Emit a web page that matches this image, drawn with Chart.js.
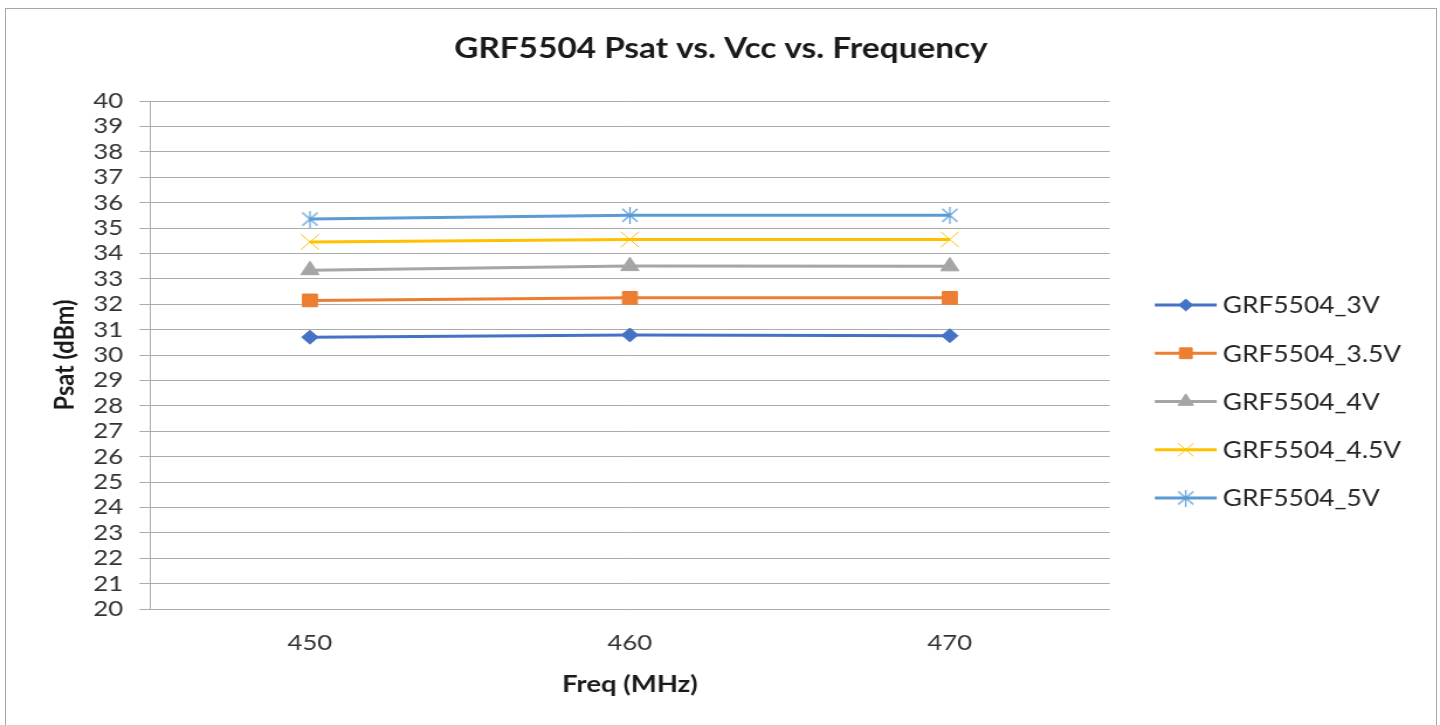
<!DOCTYPE html>
<html lang="en">
<head>
<meta charset="UTF-8">
<title>GRF5504 Psat vs. Vcc vs. Frequency</title>
<script src="https://cdn.jsdelivr.net/npm/chart.js"></script>
<style>
    body {
        margin: 0;
        background: #fff;
        overflow: hidden;
    }
    #frame {
        position: absolute;
        left: 5px;
        top: 8px;
        width: 1432px;
        height: 740px;
        box-sizing: border-box;
        border: 1px solid #a6a6a6;
    }
    #psatChart {
        position: absolute;
        left: 0;
        top: 0;
    }
</style>
</head>
<body>
<div id="frame"></div>
<canvas id="psatChart" style="width: 1440px; height: 725px;"></canvas>
<script>
// data
const frequencies = ['450', '460', '470'];
const seriesNames = ['GRF5504_3V', 'GRF5504_3.5V', 'GRF5504_4V', 'GRF5504_4.5V', 'GRF5504_5V'];
const psat3V   = [30.70, 30.79, 30.76];
const psat35V  = [32.15, 32.25, 32.25];
const psat4V   = [33.34, 33.50, 33.49];
const psat45V  = [34.45, 34.55, 34.55];
const psat5V   = [35.35, 35.50, 35.50];
const yMin = 20;
const yMax = 40;
const yStep = 1;

// the original picture is stretched sideways, so draw narrow and stretch with css
const SX = 1.17;
const W = Math.round(1440 / SX);
const H = 725;
const PLOT_LEFT = 150 / SX;
const PLOT_RIGHT = 1110 / SX;

const canvas = document.getElementById('psatChart');
canvas.width = W;
canvas.height = H;

// asterisk marker for the 5V series
function makeStar(color) {
    const c = document.createElement('canvas');
    c.width = 15;
    c.height = 17;
    const g = c.getContext('2d');
    g.strokeStyle = color;
    g.lineWidth = 1.2;
    g.beginPath();
    g.moveTo(7.5, 0); g.lineTo(7.5, 17);
    g.moveTo(1, 2); g.lineTo(14, 15);
    g.moveTo(14, 2); g.lineTo(1, 15);
    g.stroke();
    return c;
}

const colors = ['#4472C4', '#ED7D31', '#A5A5A5', '#FFC000', '#5B9BD5'];
const values = [psat3V, psat35V, psat4V, psat45V, psat5V];
const styles = ['rectRot', 'rect', 'triangle', 'crossRot', makeStar('#5B9BD5')];
const radii = [7, 9, 9, 11, 8];

const datasets = seriesNames.map((name, i) => ({
    label: name,
    data: values[i],
    borderColor: colors[i],
    backgroundColor: colors[i],
    borderWidth: 3,
    pointStyle: styles[i],
    pointRadius: radii[i],
    pointBorderWidth: 1,
    pointBorderColor: colors[i],
    pointBackgroundColor: colors[i],
    tension: 0,
    fill: false
}));

const TEXT = '#1a1a1a';
const TICK = '#333';
const LEGEND_TOP = 305;
const LEGEND_GAP = 48.25;

const decorPlugin = {
    id: 'decor',
    afterDraw(chart) {
        const ctx = chart.ctx;
        ctx.save();
        // title
        ctx.fillStyle = TEXT;
        ctx.font = 'bold 28.5px Lato';
        ctx.textAlign = 'center';
        ctx.textBaseline = 'middle';
        ctx.fillText('GRF5504 Psat vs. Vcc vs. Frequency', 721 / SX, 49);

        // legend on the right
        ctx.textAlign = 'left';
        ctx.font = '22.5px Lato';
        chart.data.datasets.forEach((ds, i) => {
            const y = LEGEND_TOP + i * LEGEND_GAP;
            ctx.strokeStyle = ds.borderColor;
            ctx.lineWidth = 3;
            ctx.beginPath();
            ctx.moveTo(1155 / SX, y);
            ctx.lineTo(1217 / SX, y);
            ctx.stroke();
            ctx.fillStyle = ds.pointBackgroundColor;
            ctx.lineWidth = ds.pointBorderWidth;
            Chart.helpers.drawPoint(ctx, {
                pointStyle: ds.pointStyle,
                radius: ds.pointRadius * 0.85,
                rotation: 0,
                borderWidth: ds.pointBorderWidth
            }, 1186 / SX, y);
            ctx.fillStyle = '#262626';
            ctx.fillText(ds.label, 1223 / SX, y + 1);
        });
        ctx.restore();
    }
};

new Chart(canvas, {
    type: 'line',
    data: {
        labels: frequencies,
        datasets: datasets
    },
    options: {
        responsive: false,
        animation: false,
        layout: {
            padding: { left: 30, right: W - PLOT_RIGHT, top: 101, bottom: 26 }
        },
        plugins: {
            legend: { display: false },
            title: { display: false },
            tooltip: { enabled: false }
        },
        scales: {
            x: {
                type: 'category',
                offset: true,
                grid: { display: false, drawTicks: false },
                border: { display: false },
                ticks: {
                    padding: 21,
                    color: TICK,
                    font: { family: 'Lato', size: 22 }
                },
                title: {
                    display: true,
                    text: 'Freq (MHz)',
                    color: TEXT,
                    font: { family: 'Lato', size: 23.5, weight: 'bold' },
                    padding: { top: 0, bottom: 0 }
                },
                afterFit(scale) {
                    scale.height = 90;
                }
            },
            y: {
                min: yMin,
                max: yMax,
                ticks: {
                    stepSize: yStep,
                    autoSkip: false,
                    padding: 14,
                    color: TICK,
                    font: { family: 'Lato', size: 22 }
                },
                grid: {
                    color: '#ababab',
                    lineWidth: 1,
                    tickLength: 9
                },
                border: { color: '#ababab', width: 1 },
                title: {
                    display: true,
                    text: 'Psat (dBm)',
                    color: TEXT,
                    font: { family: 'Lato', size: 23.5, weight: 'bold' },
                    padding: { top: 11, bottom: 0 }
                },
                afterFit(scale) {
                    scale.width = PLOT_LEFT - 30;
                }
            }
        }
    },
    plugins: [decorPlugin]
});
</script>
</body>
</html>
